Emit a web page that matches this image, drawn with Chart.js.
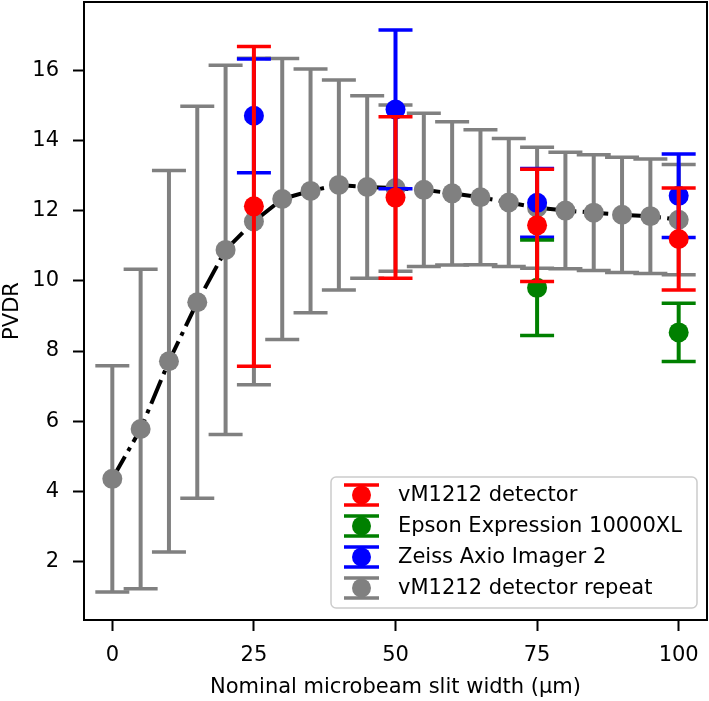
<!DOCTYPE html>
<html><head><meta charset="utf-8">
<script src="https://cdn.jsdelivr.net/npm/chart.js@4"></script>
<style>html,body{margin:0;padding:0;background:#fff}#wrap{width:709px;height:701px}</style>
</head><body><div id="wrap"><canvas id="c" width="709" height="701"></canvas></div>
<script>
// ---- data ----
const slitWidths = [0,5,10,15,20,25,30,35,40,45,50,55,60,65,70,75,80,85,90,95,100];
const repeatMean = [4.36,5.78,7.71,9.39,10.88,11.69,12.33,12.56,12.73,12.67,12.64,12.59,12.49,12.38,12.23,12.08,12.00,11.94,11.88,11.84,11.74];
const repeatErr  = [3.22,4.55,5.43,5.58,5.26,4.65,4.00,3.47,2.99,2.60,2.37,2.18,2.04,1.92,1.82,1.72,1.66,1.65,1.64,1.63,1.57];
const detX    = [25,50,75,100];
const detMean = [12.12,12.37,11.58,11.19];
const detErr  = [4.55,2.30,1.60,1.45];
const epsonX    = [75,100];
const epsonMean = [9.80,8.53];
const epsonErr  = [1.36,0.83];
const zeissX    = [25,50,75,100];
const zeissMean = [14.70,14.88,12.22,12.42];
const zeissErr  = [1.62,2.26,0.98,1.19];
const xTickValues = [0,25,50,75,100];
const yTickValues = [2,4,6,8,10,12,14,16];
const seriesNames = ['vM1212 detector','Epson Expression 10000XL','Zeiss Axio Imager 2','vM1212 detector repeat'];
const seriesColors = ['#ff0000','#008000','#0000ff','#808080'];
const xTitle = 'Nominal microbeam slit width (\u03bcm)';
const yTitle = 'PVDR';

const FONT = "'DejaVu Sans', 'Liberation Sans', sans-serif";
const FS = 21;
const toPts = (xs, ys) => xs.map((x, i) => ({x: x, y: ys[i]}));

function drawErr(chart, xs, ys, errs, color) {
  const X = chart.scales.x, Y = chart.scales.y, ctx = chart.ctx;
  ctx.save();
  ctx.strokeStyle = color; ctx.lineCap = 'butt';
  for (let i = 0; i < xs.length; i++) {
    const px = X.getPixelForValue(xs[i]);
    const top = Y.getPixelForValue(ys[i] + errs[i]);
    const bot = Y.getPixelForValue(ys[i] - errs[i]);
    ctx.lineWidth = 4;
    ctx.beginPath(); ctx.moveTo(px, top); ctx.lineTo(px, bot); ctx.stroke();
    ctx.lineWidth = 3.5;
    ctx.beginPath();
    ctx.moveTo(px - 17, top); ctx.lineTo(px + 17, top);
    ctx.moveTo(px - 17, bot); ctx.lineTo(px + 17, bot);
    ctx.stroke();
  }
  ctx.restore();
}

const errPlugin = {
  id: 'errbars',
  beforeDatasetsDraw(chart) {
    drawErr(chart, slitWidths, repeatMean, repeatErr, seriesColors[3]);
  },
  beforeDatasetDraw(chart, args) {
    const ds = chart.data.datasets[args.index];
    if (ds.errX) drawErr(chart, ds.errX, ds.errY, ds.errE, ds.backgroundColor);
  },
  afterDatasetsDraw(chart) {
    const a = chart.chartArea, ctx = chart.ctx;
    ctx.save();
    ctx.strokeStyle = '#000'; ctx.lineWidth = 2;
    ctx.strokeRect(a.left, a.top, a.right - a.left, a.bottom - a.top);
    ctx.restore();
  },
  afterDraw(chart) {
    const ctx = chart.ctx;
    ctx.save();
    const bx = 331, by = 477, bw = 366, bh = 131, r = 5;
    ctx.beginPath();
    ctx.moveTo(bx + r, by); ctx.lineTo(bx + bw - r, by); ctx.arcTo(bx + bw, by, bx + bw, by + r, r);
    ctx.lineTo(bx + bw, by + bh - r); ctx.arcTo(bx + bw, by + bh, bx + bw - r, by + bh, r);
    ctx.lineTo(bx + r, by + bh); ctx.arcTo(bx, by + bh, bx, by + bh - r, r);
    ctx.lineTo(bx, by + r); ctx.arcTo(bx, by, bx + r, by, r);
    ctx.closePath();
    ctx.fillStyle = 'rgba(255,255,255,0.8)'; ctx.fill();
    ctx.strokeStyle = '#cccccc'; ctx.lineWidth = 1.5; ctx.stroke();
    const rows = [495, 526, 557, 588];
    const gx = 361.5;
    for (let i = 0; i < 4; i++) {
      const cy = rows[i], col = seriesColors[i];
      ctx.strokeStyle = col; ctx.fillStyle = col;
      ctx.lineWidth = 4;
      ctx.beginPath(); ctx.moveTo(gx, cy - 10); ctx.lineTo(gx, cy + 10); ctx.stroke();
      ctx.lineWidth = 3.5;
      ctx.beginPath(); ctx.moveTo(gx - 17.5, cy - 10); ctx.lineTo(gx + 17.5, cy - 10);
      ctx.moveTo(gx - 17.5, cy + 10); ctx.lineTo(gx + 17.5, cy + 10); ctx.stroke();
      ctx.beginPath(); ctx.arc(gx, cy, 9.5, 0, Math.PI * 2); ctx.fill();
      ctx.fillStyle = '#000';
      ctx.font = FS + 'px ' + FONT;
      ctx.textBaseline = 'middle'; ctx.textAlign = 'left';
      ctx.fillText(seriesNames[i], 398, cy + 1);
    }
    ctx.restore();
  }
};

const pointDs = (label, xs, ys, errs, color, order) => ({
  type: 'scatter', label: label, data: toPts(xs, ys), showLine: false,
  backgroundColor: color, borderColor: color, pointRadius: 10, pointBorderWidth: 0,
  pointHoverRadius: 10, order: order, errX: xs, errY: ys, errE: errs
});

new Chart(document.getElementById('c'), {
  type: 'scatter',
  data: {
    datasets: [
      pointDs(seriesNames[0], detX, detMean, detErr, seriesColors[0], 1),
      pointDs(seriesNames[1], epsonX, epsonMean, epsonErr, seriesColors[1], 2),
      pointDs(seriesNames[2], zeissX, zeissMean, zeissErr, seriesColors[2], 3),
      {type: 'scatter', label: seriesNames[3], data: toPts(slitWidths, repeatMean), showLine: false,
       backgroundColor: seriesColors[3], borderColor: seriesColors[3], pointRadius: 10, pointBorderWidth: 0, order: 4},
      {type: 'scatter', label: 'fit', data: toPts(slitWidths, repeatMean), showLine: true,
       borderColor: '#000', borderWidth: 4, borderDash: [25.6, 6.4, 4, 6.4], pointRadius: 0,
       backgroundColor: '#000', fill: false, order: 5, tension: 0}
    ]
  },
  options: {
    responsive: false, animation: false, devicePixelRatio: 1,
    layout: {autoPadding: false, padding: {top: 2, right: 2, left: 0, bottom: 0}},
    plugins: {legend: {display: false}, tooltip: {enabled: false}},
    scales: {
      x: {
        type: 'linear', min: -5, max: 105,
        afterBuildTicks: s => { s.ticks = xTickValues.map(v => ({value: v})); },
        afterFit: s => { s.height = 81; s.paddingLeft = 0; s.paddingRight = 0; },
        grid: {display: true, drawOnChartArea: false, drawTicks: true, tickLength: 11, tickWidth: 2, tickColor: '#000'},
        border: {display: false},
        ticks: {color: '#000', font: {family: FONT, size: FS}, padding: 12, maxRotation: 0},
        title: {display: true, text: xTitle, color: '#000', font: {family: FONT, size: FS}, padding: {top: 0, bottom: 1}}
      },
      y: {
        type: 'linear', min: 0.34, max: 17.94,
        afterBuildTicks: s => { s.ticks = yTickValues.map(v => ({value: v})); },
        afterFit: s => { s.width = 84; s.paddingTop = 0; s.paddingBottom = 0; },
        grid: {display: true, drawOnChartArea: false, drawTicks: true, tickLength: 11, tickWidth: 2, tickColor: '#000'},
        border: {display: false},
        ticks: {color: '#000', font: {family: FONT, size: FS}, padding: 14},
        title: {display: true, text: yTitle, color: '#000', font: {family: FONT, size: FS}, padding: 0}
      }
    }
  },
  plugins: [errPlugin]
});
</script>
</body></html>
